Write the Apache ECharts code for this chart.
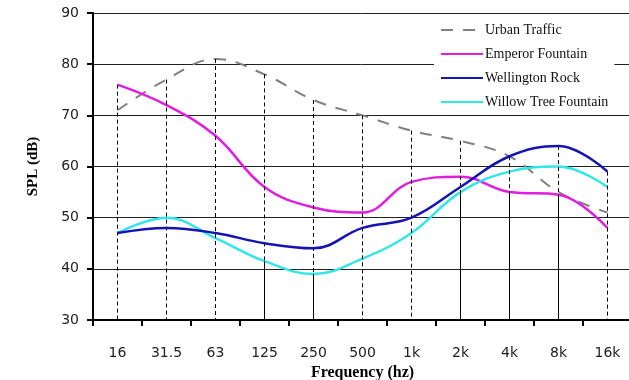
<!DOCTYPE html>
<html>
<head>
<meta charset="utf-8">
<script src="https://cdn.jsdelivr.net/npm/echarts@6/dist/echarts.min.js"></script>
<style>
  html, body { margin: 0; padding: 0; background: #fff; }
  #chart { width: 629px; height: 380px; }
</style>
</head>
<body>
<div id="chart"></div>
<script>
// Octave-band centre frequencies
const frequencies = ['16', '31.5', '63', '125', '250', '500', '1k', '2k', '4k', '8k', '16k'];

// Sound pressure level per band, dB
const urbanTraffic       = [71, 77, 81, 78, 73, 70, 67, 65, 62, 55, 51];
const emperorFountain    = [76, 72, 66, 56, 52, 51, 57, 58, 55, 54.5, 48];
const wellingtonRock     = [47, 48, 47, 45, 44, 48, 50, 56, 62, 64, 59];
const willowTreeFountain = [47, 50, 46, 41.5, 39, 42, 47, 55, 59, 60, 56];

// Bands where the overlapping drop lines read as one solid stroke below the lowest curve
const solidDropBands = ['125', '250', '2k', '4k', '8k'];

const yMin = 30, yMax = 90, yStep = 10;

const allSeries = [urbanTraffic, emperorFountain, wellingtonRock, willowTreeFountain];
const topAt = frequencies.map((_, i) => Math.max(...allSeries.map(s => s[i])));
const lowAt = frequencies.map((_, i) => Math.min(...allSeries.map(s => s[i])));

const dashedDrops = frequencies.map((_, i) => [
  { coord: [i, topAt[i]] },
  { coord: [i, yMin] }
]);
const solidDrops = solidDropBands.map(f => {
  const i = frequencies.indexOf(f);
  return [{ coord: [i, lowAt[i]] }, { coord: [i, yMin] }];
});

const serif = 'Liberation Serif, Times New Roman, serif';
const sans = 'DejaVu Sans, Verdana, sans-serif';

const chart = echarts.init(document.getElementById('chart'));
chart.setOption({
  animation: false,
  backgroundColor: '#fff',
  grid: { left: 93, top: 13, right: -3, bottom: 60, containLabel: false, outerBoundsMode: 'none' },
  legend: {
    data: ['Urban Traffic', 'Emperor Fountain', 'Wellington Rock', 'Willow Tree Fountain'],
    orient: 'vertical',
    left: 434,
    top: 20,
    backgroundColor: '#fff',
    padding: [3, 6, 3, 6],
    itemWidth: 42,
    itemHeight: 14,
    itemGap: 10,
    itemStyle: { opacity: 0 },
    textStyle: { fontFamily: serif, fontSize: 14, color: '#111', padding: [0, 0, 0, -3] }
  },
  xAxis: {
    type: 'category',
    data: frequencies,
    boundaryGap: true,
    axisLine: { show: true, lineStyle: { color: '#000', width: 2 } },
    axisTick: { show: true, inside: false, length: 6, lineStyle: { color: '#000', width: 2 } },
    axisLabel: { fontFamily: sans, fontSize: 14, color: '#222', margin: 26 },
    splitLine: { show: false },
    name: 'Frequency (hz)',
    nameLocation: 'middle',
    nameGap: 42,
    nameTextStyle: { fontFamily: serif, fontSize: 16, fontWeight: 'bold', color: '#000' }
  },
  yAxis: {
    type: 'value',
    min: yMin,
    max: yMax,
    interval: yStep,
    axisLine: { show: true, lineStyle: { color: '#000', width: 2 } },
    axisTick: { show: true, inside: false, length: 6, lineStyle: { color: '#000', width: 2 } },
    axisLabel: { fontFamily: sans, fontSize: 14, color: '#222', margin: 14 },
    splitLine: { show: true, lineStyle: { color: '#222', width: 1 } },
    name: 'SPL (dB)',
    nameLocation: 'middle',
    nameGap: 52,
    nameTextStyle: { fontFamily: serif, fontSize: 15, fontWeight: 'bold', color: '#000' }
  },
  series: [
    {
      name: 'drops',
      type: 'line',
      data: [],
      silent: true,
      z: 1,
      markLine: {
        silent: true,
        symbol: ['none', 'none'],
        label: { show: false },
        animation: false,
        lineStyle: { color: '#000', width: 1, type: [4, 3] },
        data: dashedDrops
      }
    },
    {
      name: 'solid drops',
      type: 'line',
      data: [],
      silent: true,
      z: 1,
      markLine: {
        silent: true,
        symbol: ['none', 'none'],
        label: { show: false },
        animation: false,
        lineStyle: { color: '#000', width: 1, type: 'solid' },
        data: solidDrops
      }
    },
    {
      name: 'Urban Traffic',
      type: 'line',
      data: urbanTraffic,
      smooth: 0.4,
      symbol: 'none',
      z: 3,
      lineStyle: { color: '#808080', width: 2, type: [12, 10] },
      itemStyle: { color: '#808080' }
    },
    {
      name: 'Emperor Fountain',
      type: 'line',
      data: emperorFountain,
      smooth: 0.4,
      symbol: 'none',
      z: 4,
      lineStyle: { color: '#e01ee0', width: 2.5 },
      itemStyle: { color: '#e01ee0' }
    },
    {
      name: 'Wellington Rock',
      type: 'line',
      data: wellingtonRock,
      smooth: 0.4,
      symbol: 'none',
      z: 5,
      lineStyle: { color: '#1414b4', width: 2.5 },
      itemStyle: { color: '#1414b4' }
    },
    {
      name: 'Willow Tree Fountain',
      type: 'line',
      data: willowTreeFountain,
      smooth: 0.4,
      symbol: 'none',
      z: 4,
      lineStyle: { color: '#30e6e6', width: 2.5 },
      itemStyle: { color: '#30e6e6' }
    }
  ]
});
</script>
</body>
</html>
